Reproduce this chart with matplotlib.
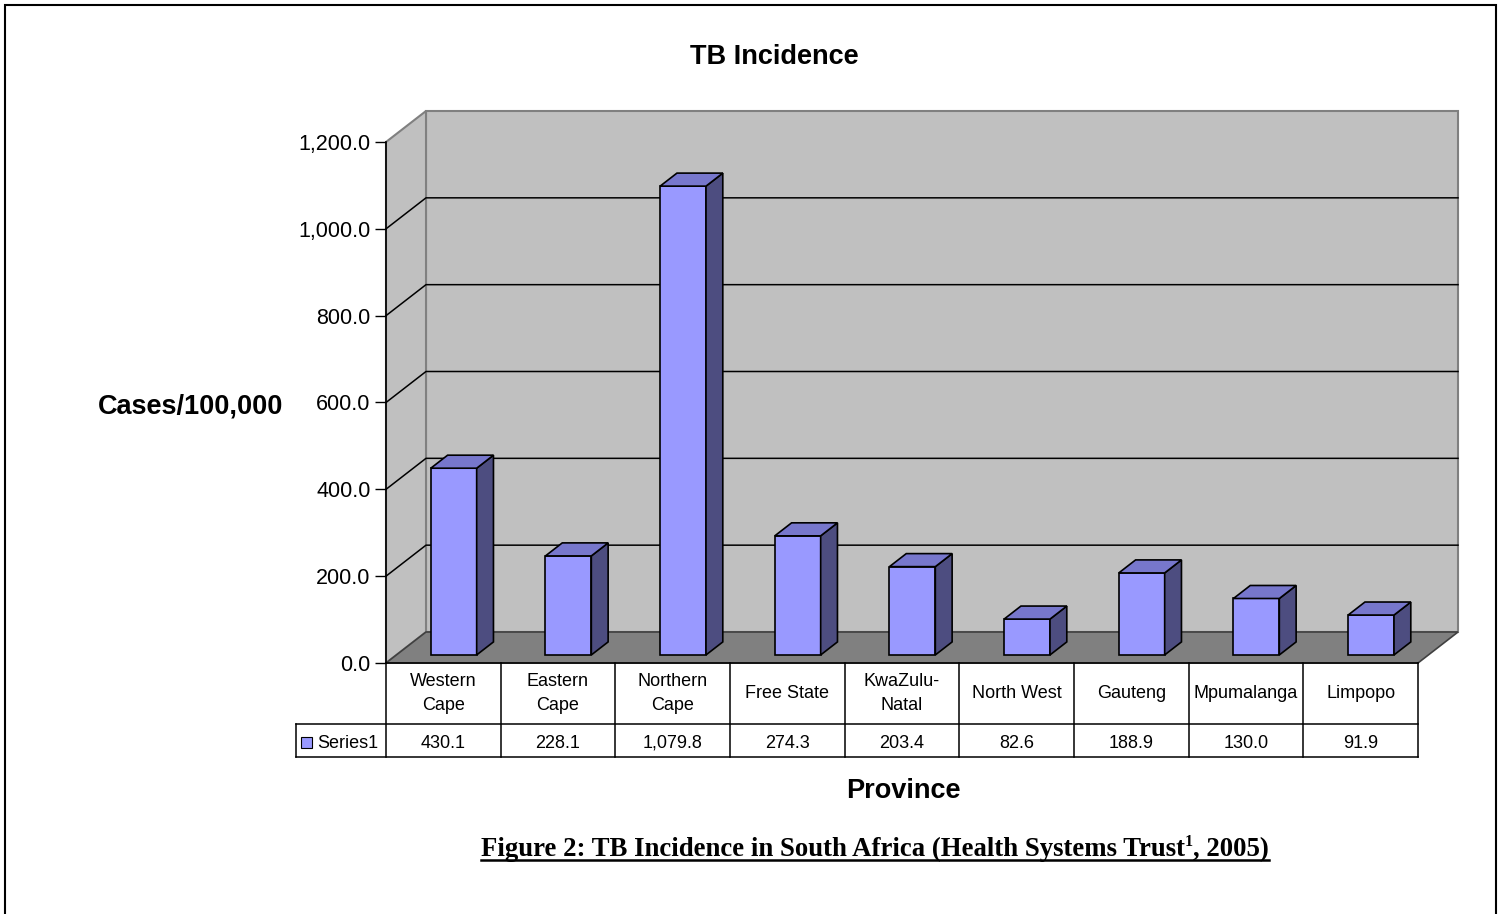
import matplotlib
matplotlib.use("Agg")
import matplotlib.pyplot as plt
from matplotlib.patches import Polygon, Rectangle
from matplotlib.lines import Line2D

provinces = ["Western\nCape", "Eastern\nCape", "Northern\nCape", "Free State",
             "KwaZulu-\nNatal", "North West", "Gauteng", "Mpumalanga", "Limpopo"]
incidence = [430.1, 228.1, 1079.8, 274.3, 203.4, 82.6, 188.9, 130.0, 91.9]
y_ticks = [0, 200, 400, 600, 800, 1000, 1200]
series_name = "Series1"

FRONT = "#9999FF"
TOP = "#7777CC"
SIDE = "#4D4D80"
WALL = "#C0C0C0"
FLOOR = "#808080"
SANS = "Liberation Sans"
SERIF = "Liberation Serif"

W, H = 1501, 914
fig = plt.figure(figsize=(W / 100, H / 100), dpi=100)

# front plane of the 3d box, in pixels
x_left, x_right, y0_px, ytop_px = 386, 1418, 663, 142
ax = fig.add_axes([x_left / W, (H - y0_px) / H, (x_right - x_left) / W, (y0_px - ytop_px) / H])
ax.patch.set_visible(False)
n = len(incidence)
ax.set_xlim(-0.5, n - 0.5)
ax.set_ylim(0, 1200)

# depth of the box in data units (40 px right, 31 px up)
dx = 40 / ((x_right - x_left) / n)
dy = 31 / ((y0_px - ytop_px) / 1200)
xl, xr, ytop = -0.5, n - 0.5, 1200

# walls and floor
ax.add_patch(Polygon([(xl + dx, dy), (xr + dx, dy), (xr + dx, ytop + dy), (xl + dx, ytop + dy)],
                     closed=True, facecolor=WALL, edgecolor="#808080", lw=1.5, zorder=0, clip_on=False))
ax.add_patch(Polygon([(xl, 0), (xl + dx, dy), (xl + dx, ytop + dy), (xl, ytop)],
                     closed=True, facecolor=WALL, edgecolor="#808080", lw=1.5, zorder=0, clip_on=False))
ax.add_patch(Polygon([(xl, 0), (xr, 0), (xr + dx, dy), (xl + dx, dy)],
                     closed=True, facecolor=FLOOR, edgecolor="#404040", lw=1.2, zorder=0.5, clip_on=False))
for v in y_ticks[1:-1]:
    ax.add_line(Line2D([xl, xl + dx, xr + dx], [v, v + dy, v + dy], color="black", lw=1.1,
                       zorder=0.6, clip_on=False))

# 3d columns
f0, f1 = 0.26, 0.68
bw = 0.40
xs = [i + f0 * dx for i in range(n)]
ax.bar(xs, incidence, width=bw, bottom=f0 * dy, color=FRONT, edgecolor="black", lw=1.2,
       zorder=3, clip_on=False)
ddx, ddy = (f1 - f0) * dx, (f1 - f0) * dy
for x, v in zip(xs, incidence):
    l, r = x - bw / 2, x + bw / 2
    b, t = f0 * dy, f0 * dy + v
    ax.add_patch(Polygon([(r, b), (r + ddx, b + ddy), (r + ddx, t + ddy), (r, t)], closed=True,
                         facecolor=SIDE, edgecolor="black", lw=1.2, zorder=3, clip_on=False))
    ax.add_patch(Polygon([(l, t), (r, t), (r + ddx, t + ddy), (l + ddx, t + ddy)], closed=True,
                         facecolor=TOP, edgecolor="black", lw=1.2, zorder=3, clip_on=False))

# axis
for s in ["top", "right", "bottom"]:
    ax.spines[s].set_visible(False)
ax.spines["left"].set_linewidth(1.2)
ax.set_xticks([])
ax.set_yticks(y_ticks)
ax.set_yticklabels([f"{v:,.1f}" for v in y_ticks], fontsize=15.5, family=SANS)
ax.tick_params(axis="y", direction="out", length=8, width=1, pad=3)

# data table below the floor
tr = ax.get_xaxis_transform()
row1 = -(724 - y0_px) / (y0_px - ytop_px)
row2 = -(757 - y0_px) / (y0_px - ytop_px)
x_series = xl - (x_left - 296) / ((x_right - x_left) / n)
tl = dict(color="black", lw=1.1, transform=tr, clip_on=False)
ax.add_line(Line2D([xl, xr], [0, 0], **tl))
ax.add_line(Line2D([x_series, xr], [row1, row1], **tl))
ax.add_line(Line2D([x_series, xr], [row2, row2], **tl))
ax.add_line(Line2D([x_series, x_series], [row1, row2], **tl))
for k in range(n + 1):
    ax.add_line(Line2D([xl + k, xl + k], [0, row2], **tl))
row_base = -(748 - y0_px) / (y0_px - ytop_px)
for i, (p, v) in enumerate(zip(provinces, incidence)):
    ax.text(i, row1 / 2, p, ha="center", va="center", fontsize=13, family=SANS,
            linespacing=1.55, transform=tr)
    ax.text(i, row_base, f"{v:,.1f}", ha="center", va="baseline", fontsize=13,
            family=SANS, transform=tr)
ax.add_patch(Rectangle((x_series + 0.045, -0.163), 0.095, 0.021, facecolor=FRONT,
                       edgecolor="black", lw=0.8, transform=tr, clip_on=False))
ax.text(x_series + 0.185, row_base, series_name, ha="left", va="baseline",
        fontsize=13, family=SANS, transform=tr)

# titles
fig.text(774 / W, 1 - 54 / H, "TB Incidence", ha="center", va="center_baseline", fontsize=19.5,
         fontweight="bold", family=SANS)
fig.text(191 / W, 1 - 404 / H, "Cases/100,000", ha="center", va="center_baseline", fontsize=19.5,
         fontweight="bold", family=SANS)
fig.text(903 / W, 1 - 788 / H, "Province", ha="center", va="center_baseline", fontsize=19.5,
         fontweight="bold", family=SANS)

# caption with superscript and underline
cap_y = 1 - 856 / H
cap_fs = 19.3
renderer = fig.canvas.get_renderer()
t1 = fig.text(481 / W, cap_y, "Figure 2: TB Incidence in South Africa (Health Systems Trust",
              ha="left", va="baseline", fontsize=cap_fs, fontweight="bold", family=SERIF)
b1 = t1.get_window_extent(renderer)
t2 = fig.text(b1.x1 / W, cap_y + 10 / H, "1", ha="left", va="baseline", fontsize=cap_fs * 0.6,
              fontweight="bold", family=SERIF)
b2 = t2.get_window_extent(renderer)
t3 = fig.text(b2.x1 / W, cap_y, ", 2005)", ha="left", va="baseline", fontsize=cap_fs,
              fontweight="bold", family=SERIF)
b3 = t3.get_window_extent(renderer)
fig.add_artist(Line2D([481 / W, b3.x1 / W], [cap_y - 4 / H, cap_y - 4 / H], color="black",
                      lw=1.8, transform=fig.transFigure))

# outer frame
fig.add_artist(Rectangle((5 / W, -0.05), 1491 / W, 1.05 - 5 / H, fill=False, edgecolor="black",
                         lw=1.5, transform=fig.transFigure))

fig.savefig("out.png", dpi=100)
